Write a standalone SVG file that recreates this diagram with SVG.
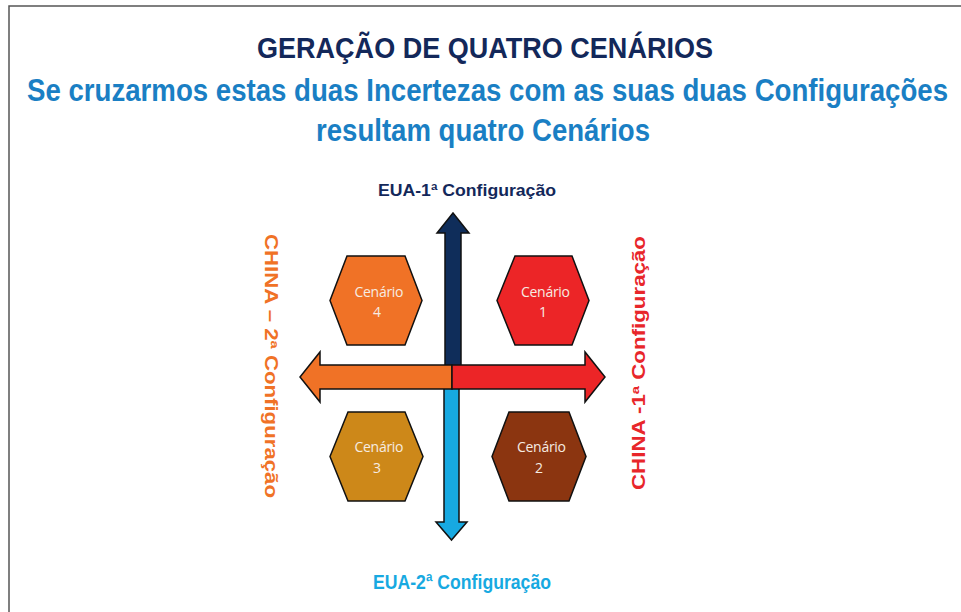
<svg xmlns="http://www.w3.org/2000/svg" width="961" height="612" viewBox="0 0 961 612">
<style>
.narrow{font-family:'Liberation Sans Narrow','Liberation Sans',Arial,sans-serif;font-weight:bold}
.bold{font-family:'Liberation Sans',Arial,sans-serif;font-weight:bold}
.hex{stroke:#111;stroke-width:1.5;stroke-linejoin:miter}
.arr{stroke:#111;stroke-width:1.5;stroke-linejoin:miter}
.lbl{font-family:'Open Sans','Noto Sans',sans-serif;font-size:14px;fill:#f6ece2;text-anchor:middle}
</style>
<rect width="961" height="612" fill="#ffffff"/>
<path d="M9 612 V6 H961" fill="none" stroke="#555" stroke-width="1.5"/>

<g id="title">
<text class="narrow" transform="translate(257,58) scale(1,1.2)" x="0" y="0" font-size="24" fill="#13285a" textLength="456" lengthAdjust="spacingAndGlyphs">GERAÇÃO DE QUATRO CENÁRIOS</text>
<text class="narrow" transform="translate(27,101) scale(1,1.22)" x="0" y="0" font-size="25" fill="#1a7fc4" textLength="921" lengthAdjust="spacingAndGlyphs">Se cruzarmos estas duas Incertezas com as suas duas Configurações</text>
<text class="narrow" transform="translate(316,141) scale(1,1.22)" x="0" y="0" font-size="25" fill="#1a7fc4" textLength="334" lengthAdjust="spacingAndGlyphs">resultam quatro Cenários</text>
</g>

<g id="connectors">
<polygon class="arr" fill="#0f2d5a" points="445,366 445,233 437,233 453,213 469,233 461,233 461,366"/>
<polygon class="arr" fill="#17a9e1" points="444,388 444,522 436,522 451.5,540 467,522 459,522 459,388"/>
<polygon class="arr" fill="#f07226" points="452,365 320,365 320,352 300,377 320,402 320,389 452,389"/>
<polygon class="arr" fill="#ec2527" points="452,365 585,365 585,352 605,377 585,402 585,389 452,389"/>
</g>

<g id="label-eua1">
<text class="bold" x="378" y="196" font-size="16" fill="#13285a" textLength="178" lengthAdjust="spacingAndGlyphs">EUA-1ª Configuração</text>
</g>
<g id="label-eua2">
<text class="narrow" transform="translate(373,589) scale(1,1.2)" x="0" y="0" font-size="17" fill="#17a9e1" textLength="178" lengthAdjust="spacingAndGlyphs">EUA-2ª Configuração</text>
</g>
<g id="label-china2">
<text class="bold" transform="translate(265,234) rotate(90)" x="0" y="0" font-size="18" fill="#f07226" textLength="264" lengthAdjust="spacingAndGlyphs">CHINA – 2ª Configuração</text>
</g>
<g id="label-china1">
<text class="bold" transform="translate(645,490) rotate(-90)" x="0" y="0" font-size="18" fill="#e8262a" textLength="254" lengthAdjust="spacingAndGlyphs">CHINA -1ª Configuração</text>
</g>

<g id="cenario4">
<polygon class="hex" fill="#f07226" points="330,300.5 347,256 405,256 422,300.5 405,345 347,345"/>
<text class="lbl" x="379" y="297" textLength="49" lengthAdjust="spacing">Cenário</text>
<text class="lbl" x="377" y="317">4</text>
</g>
<g id="cenario1">
<polygon class="hex" fill="#ec2527" points="497,300.5 515,256 572,256 589,300.5 572,345 515,345"/>
<text class="lbl" x="545.5" y="297" textLength="49" lengthAdjust="spacing">Cenário</text>
<text class="lbl" x="543" y="317">1</text>
</g>
<g id="cenario3">
<polygon class="hex" fill="#cd8819" points="330,456.5 348,412 405,412 423,456.5 405,501 348,501"/>
<text class="lbl" x="379" y="452" textLength="49" lengthAdjust="spacing">Cenário</text>
<text class="lbl" x="377" y="473">3</text>
</g>
<g id="cenario2">
<polygon class="hex" fill="#8b3510" points="492,456.5 509,412 569,412 586,456.5 569,501 509,501"/>
<text class="lbl" x="541.5" y="452" textLength="49" lengthAdjust="spacing">Cenário</text>
<text class="lbl" x="539" y="473">2</text>
</g>
</svg>
